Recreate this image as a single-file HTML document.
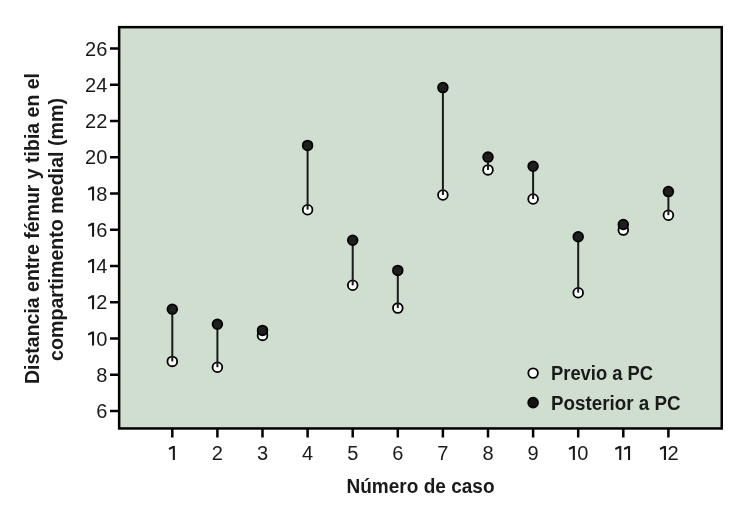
<!DOCTYPE html>
<html><head><meta charset="utf-8"><style>
html,body{margin:0;padding:0;background:#fff;width:745px;height:514px;overflow:hidden}
svg{display:block;will-change:transform}
.t{font-family:"Liberation Sans",sans-serif;font-size:20px;fill:#1a1a1a}
.b{font-family:"Liberation Sans",sans-serif;font-size:20px;font-weight:bold;fill:#1a1a1a}
</style></head><body>
<svg width="745" height="514" viewBox="0 0 745 514">
<rect x="119.15" y="27.15" width="602.6" height="401.3" fill="#cfdecf" stroke="#000" stroke-width="2.5"/>
<line x1="110" y1="411.00" x2="118.5" y2="411.00" stroke="#000" stroke-width="2.5"/>
<text x="107.3" y="418.00" text-anchor="end" class="t">6</text>
<line x1="110" y1="374.75" x2="118.5" y2="374.75" stroke="#000" stroke-width="2.5"/>
<text x="107.3" y="381.75" text-anchor="end" class="t">8</text>
<line x1="110" y1="338.50" x2="118.5" y2="338.50" stroke="#000" stroke-width="2.5"/>
<text x="107.3" y="345.50" text-anchor="end" class="t">0</text>
<path d="M94.10,345.50V331.60H91.85L87.80,333.70L88.40,335.60L92.00,333.90V345.50Z" fill="#1a1a1a"/>
<line x1="110" y1="302.25" x2="118.5" y2="302.25" stroke="#000" stroke-width="2.5"/>
<text x="107.3" y="309.25" text-anchor="end" class="t">2</text>
<path d="M94.10,309.25V295.35H91.85L87.80,297.45L88.40,299.35L92.00,297.65V309.25Z" fill="#1a1a1a"/>
<line x1="110" y1="266.00" x2="118.5" y2="266.00" stroke="#000" stroke-width="2.5"/>
<text x="107.3" y="273.00" text-anchor="end" class="t">4</text>
<path d="M94.10,273.00V259.10H91.85L87.80,261.20L88.40,263.10L92.00,261.40V273.00Z" fill="#1a1a1a"/>
<line x1="110" y1="229.75" x2="118.5" y2="229.75" stroke="#000" stroke-width="2.5"/>
<text x="107.3" y="236.75" text-anchor="end" class="t">6</text>
<path d="M94.10,236.75V222.85H91.85L87.80,224.95L88.40,226.85L92.00,225.15V236.75Z" fill="#1a1a1a"/>
<line x1="110" y1="193.50" x2="118.5" y2="193.50" stroke="#000" stroke-width="2.5"/>
<text x="107.3" y="200.50" text-anchor="end" class="t">8</text>
<path d="M94.10,200.50V186.60H91.85L87.80,188.70L88.40,190.60L92.00,188.90V200.50Z" fill="#1a1a1a"/>
<line x1="110" y1="157.25" x2="118.5" y2="157.25" stroke="#000" stroke-width="2.5"/>
<text x="107.3" y="164.25" text-anchor="end" class="t">20</text>
<line x1="110" y1="121.00" x2="118.5" y2="121.00" stroke="#000" stroke-width="2.5"/>
<text x="107.3" y="128.00" text-anchor="end" class="t">22</text>
<line x1="110" y1="84.75" x2="118.5" y2="84.75" stroke="#000" stroke-width="2.5"/>
<text x="107.3" y="91.75" text-anchor="end" class="t">24</text>
<line x1="110" y1="48.50" x2="118.5" y2="48.50" stroke="#000" stroke-width="2.5"/>
<text x="107.3" y="55.50" text-anchor="end" class="t">26</text>
<line x1="172.30" y1="429" x2="172.30" y2="437.5" stroke="#000" stroke-width="2.5"/>
<path d="M174.90,459.90V446.00H172.65L168.60,448.10L169.20,450.00L172.80,448.30V459.90Z" fill="#1a1a1a"/>
<line x1="217.40" y1="429" x2="217.40" y2="437.5" stroke="#000" stroke-width="2.5"/>
<text x="217.40" y="459.9" text-anchor="middle" class="t">2</text>
<line x1="262.50" y1="429" x2="262.50" y2="437.5" stroke="#000" stroke-width="2.5"/>
<text x="262.50" y="459.9" text-anchor="middle" class="t">3</text>
<line x1="307.60" y1="429" x2="307.60" y2="437.5" stroke="#000" stroke-width="2.5"/>
<text x="307.60" y="459.9" text-anchor="middle" class="t">4</text>
<line x1="352.70" y1="429" x2="352.70" y2="437.5" stroke="#000" stroke-width="2.5"/>
<text x="352.70" y="459.9" text-anchor="middle" class="t">5</text>
<line x1="397.80" y1="429" x2="397.80" y2="437.5" stroke="#000" stroke-width="2.5"/>
<text x="397.80" y="459.9" text-anchor="middle" class="t">6</text>
<line x1="442.90" y1="429" x2="442.90" y2="437.5" stroke="#000" stroke-width="2.5"/>
<text x="442.90" y="459.9" text-anchor="middle" class="t">7</text>
<line x1="488.00" y1="429" x2="488.00" y2="437.5" stroke="#000" stroke-width="2.5"/>
<text x="488.00" y="459.9" text-anchor="middle" class="t">8</text>
<line x1="533.10" y1="429" x2="533.10" y2="437.5" stroke="#000" stroke-width="2.5"/>
<text x="533.10" y="459.9" text-anchor="middle" class="t">9</text>
<line x1="578.20" y1="429" x2="578.20" y2="437.5" stroke="#000" stroke-width="2.5"/>
<path d="M574.90,459.90V446.00H572.65L568.60,448.10L569.20,450.00L572.80,448.30V459.90Z" fill="#1a1a1a"/>
<text x="577.30" y="459.9" class="t">0</text>
<line x1="623.30" y1="429" x2="623.30" y2="437.5" stroke="#000" stroke-width="2.5"/>
<path d="M621.30,459.90V446.00H619.05L615.00,448.10L615.60,450.00L619.20,448.30V459.90Z" fill="#1a1a1a"/>
<path d="M630.10,459.90V446.00H627.85L623.80,448.10L624.40,450.00L628.00,448.30V459.90Z" fill="#1a1a1a"/>
<line x1="668.40" y1="429" x2="668.40" y2="437.5" stroke="#000" stroke-width="2.5"/>
<path d="M666.00,459.90V446.00H663.75L659.70,448.10L660.30,450.00L663.90,448.30V459.90Z" fill="#1a1a1a"/>
<text x="667.50" y="459.9" class="t">2</text>
<circle cx="172.30" cy="361.4" r="4.85" fill="#fff" stroke="#000" stroke-width="1.8"/>
<line x1="172.30" y1="361.4" x2="172.30" y2="309.3" stroke="#1a1a1a" stroke-width="2"/>
<circle cx="172.30" cy="309.3" r="4.85" fill="#1e1e1e" stroke="#000" stroke-width="1.8"/>
<circle cx="217.40" cy="367.2" r="4.85" fill="#fff" stroke="#000" stroke-width="1.8"/>
<line x1="217.40" y1="367.2" x2="217.40" y2="324.3" stroke="#1a1a1a" stroke-width="2"/>
<circle cx="217.40" cy="324.3" r="4.85" fill="#1e1e1e" stroke="#000" stroke-width="1.8"/>
<circle cx="262.50" cy="335.4" r="4.85" fill="#fff" stroke="#000" stroke-width="1.8"/>
<line x1="262.50" y1="335.4" x2="262.50" y2="330.4" stroke="#1a1a1a" stroke-width="2"/>
<circle cx="262.50" cy="330.4" r="4.85" fill="#1e1e1e" stroke="#000" stroke-width="1.8"/>
<circle cx="307.60" cy="209.7" r="4.85" fill="#fff" stroke="#000" stroke-width="1.8"/>
<line x1="307.60" y1="209.7" x2="307.60" y2="145.4" stroke="#1a1a1a" stroke-width="2"/>
<circle cx="307.60" cy="145.4" r="4.85" fill="#1e1e1e" stroke="#000" stroke-width="1.8"/>
<circle cx="352.70" cy="285.3" r="4.85" fill="#fff" stroke="#000" stroke-width="1.8"/>
<line x1="352.70" y1="285.3" x2="352.70" y2="240.3" stroke="#1a1a1a" stroke-width="2"/>
<circle cx="352.70" cy="240.3" r="4.85" fill="#1e1e1e" stroke="#000" stroke-width="1.8"/>
<circle cx="397.80" cy="308.1" r="4.85" fill="#fff" stroke="#000" stroke-width="1.8"/>
<line x1="397.80" y1="308.1" x2="397.80" y2="270.4" stroke="#1a1a1a" stroke-width="2"/>
<circle cx="397.80" cy="270.4" r="4.85" fill="#1e1e1e" stroke="#000" stroke-width="1.8"/>
<circle cx="442.90" cy="195" r="4.85" fill="#fff" stroke="#000" stroke-width="1.8"/>
<line x1="442.90" y1="195" x2="442.90" y2="87.6" stroke="#1a1a1a" stroke-width="2"/>
<circle cx="442.90" cy="87.6" r="4.85" fill="#1e1e1e" stroke="#000" stroke-width="1.8"/>
<circle cx="488.00" cy="169.9" r="4.85" fill="#fff" stroke="#000" stroke-width="1.8"/>
<line x1="488.00" y1="169.9" x2="488.00" y2="157.1" stroke="#1a1a1a" stroke-width="2"/>
<circle cx="488.00" cy="157.1" r="4.85" fill="#1e1e1e" stroke="#000" stroke-width="1.8"/>
<circle cx="533.10" cy="199" r="4.85" fill="#fff" stroke="#000" stroke-width="1.8"/>
<line x1="533.10" y1="199" x2="533.10" y2="166.3" stroke="#1a1a1a" stroke-width="2"/>
<circle cx="533.10" cy="166.3" r="4.85" fill="#1e1e1e" stroke="#000" stroke-width="1.8"/>
<circle cx="578.20" cy="292.7" r="4.85" fill="#fff" stroke="#000" stroke-width="1.8"/>
<line x1="578.20" y1="292.7" x2="578.20" y2="236.7" stroke="#1a1a1a" stroke-width="2"/>
<circle cx="578.20" cy="236.7" r="4.85" fill="#1e1e1e" stroke="#000" stroke-width="1.8"/>
<circle cx="623.30" cy="230.1" r="4.85" fill="#fff" stroke="#000" stroke-width="1.8"/>
<line x1="623.30" y1="230.1" x2="623.30" y2="224.5" stroke="#1a1a1a" stroke-width="2"/>
<circle cx="623.30" cy="224.5" r="4.85" fill="#1e1e1e" stroke="#000" stroke-width="1.8"/>
<circle cx="668.40" cy="215.2" r="4.85" fill="#fff" stroke="#000" stroke-width="1.8"/>
<line x1="668.40" y1="215.2" x2="668.40" y2="191.6" stroke="#1a1a1a" stroke-width="2"/>
<circle cx="668.40" cy="191.6" r="4.85" fill="#1e1e1e" stroke="#000" stroke-width="1.8"/>
<circle cx="533.1" cy="373.1" r="4.8" fill="#fff" stroke="#000" stroke-width="1.8"/>
<circle cx="533.1" cy="402.6" r="4.9" fill="#111" stroke="#000" stroke-width="1.8"/>
<text x="551" y="379.7" class="b" textLength="102" lengthAdjust="spacingAndGlyphs">Previo a PC</text>
<text x="551" y="410.3" class="b" textLength="129.5" lengthAdjust="spacingAndGlyphs">Posterior a PC</text>
<text x="346.5" y="492.7" class="b" textLength="148" lengthAdjust="spacingAndGlyphs">Número de caso</text>
<g transform="translate(38.9,384) rotate(-90)"><text x="0" y="0" class="b" textLength="311" lengthAdjust="spacingAndGlyphs">Distancia entre fémur y tibia en el</text></g>
<g transform="translate(62.9,361) rotate(-90)"><text x="0" y="0" class="b" textLength="263" lengthAdjust="spacingAndGlyphs">compartimento medial (mm)</text></g>
</svg></body></html>
